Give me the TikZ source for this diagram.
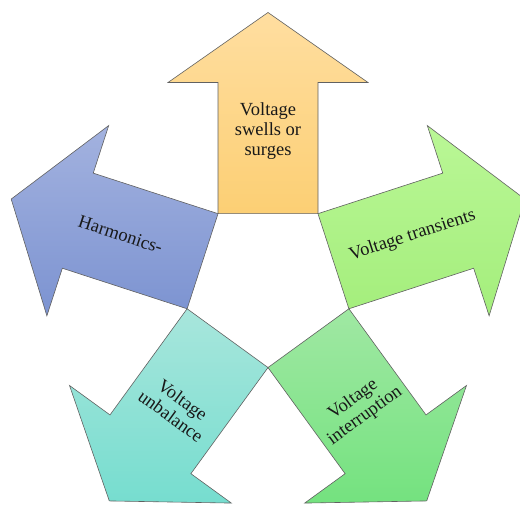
\documentclass[tikz,border=0pt]{standalone}
\usepackage{fontspec}
\setmainfont{Liberation Serif}
\begin{document}
\begin{tikzpicture}[x=1pt,y=1pt,
  arrowshape/.style={draw=black!62, line width=0.6pt, line join=miter},
  lbl/.style={align=center, text=black!90, inner sep=0pt,
    font=\fontsize{18.5}{20}\selectfont}]
\useasboundingbox (0,0) rectangle (520,511);
\clip (0,0) rectangle (520,511);
\coordinate (c) at (268,228.5);
\def\arrowpath{(68.8,-50) -- (200,-50) -- (200,-100) -- (270,0) -- (200,100) -- (200,50) -- (68.8,50) -- cycle}
% top arrow
\begin{scope}[shift={(c)}, rotate=90]
  \path[arrowshape, top color={rgb,255:red,255;green,222;blue,160}, bottom color={rgb,255:red,252;green,207;blue,116}] \arrowpath;
\end{scope}
% right arrow
\begin{scope}[shift={(c)}, rotate=18]
  \path[arrowshape, top color={rgb,255:red,186;green,247;blue,150}, bottom color={rgb,255:red,164;green,238;blue,124}] \arrowpath;
\end{scope}
% left arrow
\begin{scope}[shift={(c)}, rotate=162]
  \path[arrowshape, top color={rgb,255:red,163;green,178;blue,223}, bottom color={rgb,255:red,124;green,147;blue,209}] \arrowpath;
\end{scope}
% bottom-left arrow
\begin{scope}[shift={(c)}, rotate=234]
  \path[arrowshape, top color={rgb,255:red,168;green,230;blue,220}, bottom color={rgb,255:red,118;green,221;blue,207}] \arrowpath;
\end{scope}
% bottom-right arrow
\begin{scope}[shift={(c)}, rotate=306]
  \path[arrowshape, top color={rgb,255:red,160;green,232;blue,163}, bottom color={rgb,255:red,116;green,226;blue,127}] \arrowpath;
\end{scope}
% labels
\node[lbl] (t1) at ([shift={(90:151)}]c) {Voltage\\swells or\\surges};
\node[lbl, rotate=18] (t2) at ([shift={(18:152)}]c) {Voltage transients};
\node[lbl, rotate=-18] (t3) at ([shift={(162:155)}]c) {Harmonics-};
\node[lbl, rotate=-36] (t4) at ([shift={(234:155)}]c) {Voltage\\unbalance};
\node[lbl, rotate=36] (t5) at ([shift={(306:155)}]c) {Voltage\\interruption};
\end{tikzpicture}
\end{document}
